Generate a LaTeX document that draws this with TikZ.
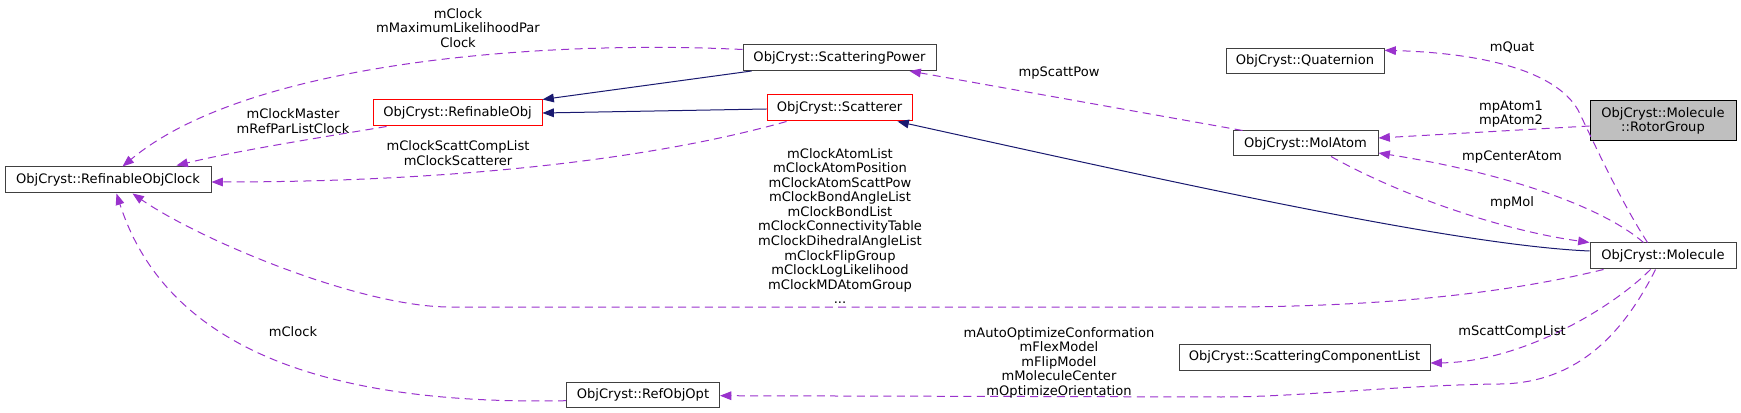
\documentclass[tikz,border=0pt]{standalone}
\usepackage{fontspec}
\setmainfont{DejaVu Sans}
\usetikzlibrary{arrows.meta,calc}
\definecolor{edgepurple}{HTML}{9A32CD}
\definecolor{inhnavy}{HTML}{191970}
\definecolor{boxgray}{HTML}{404040}
\definecolor{fillgray}{HTML}{BFBFBF}
\newcommand\lblfont{\fontsize{9.8pt}{10.9pt}\selectfont}
\begin{document}
\begin{tikzpicture}[x=0.75pt,y=-0.75pt,
  cls/.style={draw=boxgray, fill=white, line width=0.75pt, inner sep=0pt, minimum height=19.5pt, font=\lblfont},
  redcls/.style={cls, draw=red},
  maincls/.style={cls, draw=black, fill=fillgray, minimum height=30pt, align=center},
  use/.style={draw=edgepurple, line width=0.75pt, dash pattern=on 6pt off 4pt, -{Triangle[length=8.5pt,width=6.5pt]}},
  inh/.style={draw=inhnavy, line width=0.75pt, -{Triangle[length=8.5pt,width=6.5pt]}},
  lab/.style={inner sep=0pt, align=center, font=\lblfont}]
\fill[white] (0,0) rectangle (1741,413);
\useasboundingbox (0,0) rectangle (1741,413);

% nodes
\node[cls, minimum width=154.5pt] (clock) at (108,180) {ObjCryst::RefinableObjClock};
\node[redcls, minimum width=126.75pt] (refobj) at (457.5,113) {ObjCryst::RefinableObj};
\node[cls, minimum width=144.75pt] (scpow) at (839.5,57.5) {ObjCryst::ScatteringPower};
\node[redcls, minimum width=108.75pt] (scat) at (839.5,108) {ObjCryst::Scatterer};
\node[cls, minimum width=118.5pt, minimum height=18.75pt] (quat) at (1305,61) {ObjCryst::Quaternion};
\node[cls, minimum width=108.75pt, minimum height=18.75pt] (molatom) at (1305.5,143.5) {ObjCryst::MolAtom};
\node[maincls, minimum width=109.5pt] (rotor) at (1663,121) {ObjCryst::Molecule\\::RotorGroup};
\node[cls, minimum width=109.5pt] (molecule) at (1663,256) {ObjCryst::Molecule};
\node[cls, minimum width=188.25pt] (scl) at (1304.5,357) {ObjCryst::ScatteringComponentList};
\node[cls, minimum width=114.75pt, minimum height=18.75pt] (refobjopt) at (643,394.7) {ObjCryst::RefObjOpt};

% inheritance
\draw[inh] ($(scpow.south west)+(9,0)$) -- (refobj.north east);
\draw[inh] ($(scat.west)+(0,1)$) -- (refobj.east);
\draw[inh] ($(molecule.west)+(0,-5)$) .. controls (1450,245) and (1150,177) .. ($(scat.south east)+(-15,0)$);

% usage
\draw[use] ($(molecule.south west)+(14,0)$) .. controls (1520,290) and (1400,307) .. (1221,307) -- (450,307) .. controls (360,307) and (200,240) .. ($(clock.south west)+(128,0)$);
\draw[use] ($(refobjopt.west)+(0,6)$) .. controls (350,405) and (170,360) .. ($(clock.south west)+(112,0)$);
\draw[use] ($(scpow.west)+(0,-8)$) .. controls (550,40) and (250,60) .. ($(clock.north west)+(118,0)$);
\draw[use] ($(refobj.south west)+(14,0)$) .. controls (330,136) and (240,150) .. ($(clock.north west)+(172,-1)$);
\draw[use] ($(scat.south west)+(20,0)$) .. controls (650,160) and (450,182) .. ($(clock.east)+(0,2)$);
\draw[use] ($(molatom.north west)+(10,0)$) -- ($(scpow.south east)+(-27,0)$);
\draw[use] ($(molecule.north west)+(58,0)$) .. controls (1620,200) and (1595,145) .. (1578,110) .. controls (1555,70) and (1480,53) .. ($(quat.north east)+(0,2.3)$);
\draw[use] ($(rotor.west)+(0,5)$) -- ($(molatom.east)+(0,-5.5)$);
\draw[use] ($(molecule.north west)+(54,0)$) .. controls (1600,205) and (1500,172) .. ($(molatom.east)+(0,9.5)$);
\draw[use] ($(molatom.south)+(25.5,0)$) .. controls (1400,195) and (1500,230) .. (molecule.north west);
\draw[use] ($(molecule.south west)+(61,0)$) .. controls (1610,310) and (1520,362) .. ($(scl.east)+(0,6)$);
\draw[use] ($(molecule.south west)+(66,0)$) .. controls (1625,330) and (1580,383) .. (1500,384) .. controls (1400,385) and (1300,397) .. (1221,397) -- ($(refobjopt.east)+(0,1)$);

% labels
\node[lab] (l6) at (458,27.8) {mClock\\mMaximumLikelihoodPar\\Clock};
\node[lab] (l7) at (293,121) {mClockMaster\\mRefParListClock};
\node[lab] (l8) at (458,153) {mClockScattCompList\\mClockScatterer};
\node[lab] (l4) at (840,226) {mClockAtomList\\mClockAtomPosition\\mClockAtomScattPow\\mClockBondAngleList\\mClockBondList\\mClockConnectivityTable\\mClockDihedralAngleList\\mClockFlipGroup\\mClockLogLikelihood\\mClockMDAtomGroup\\...};
\node[lab] (l5) at (293,332) {mClock};
\node[lab] (l9) at (1059,73) {mpScattPow};
\node[lab] (l10) at (1512,47) {mQuat};
\node[lab] (l11) at (1511,114) {mpAtom1\\mpAtom2};
\node[lab] (l12) at (1512,157) {mpCenterAtom};
\node[lab] (l13) at (1512,203) {mpMol};
\node[lab] (l14) at (1512,332) {mScattCompList};
\node[lab] (l15) at (1059,362.5) {mAutoOptimizeConformation\\mFlexModel\\mFlipModel\\mMoleculeCenter\\mOptimizeOrientation};
\end{tikzpicture}
\end{document}
